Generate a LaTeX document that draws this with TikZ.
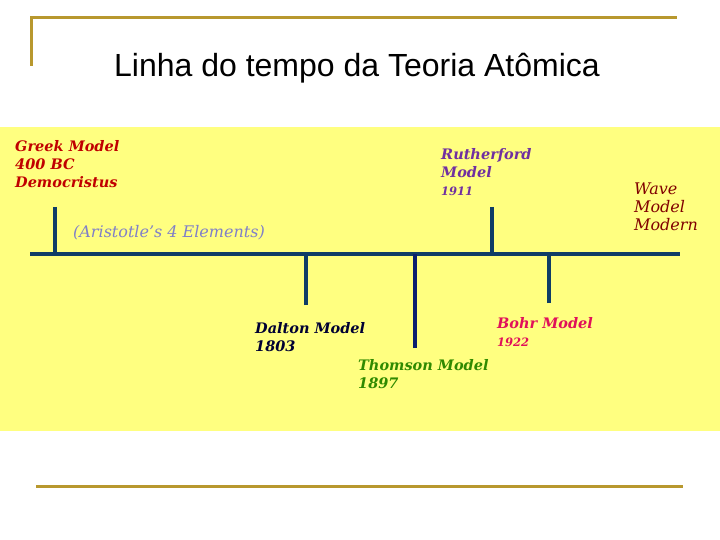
\documentclass[tikz,border=0pt]{standalone}
\usepackage{fontspec}
\setmainfont{DejaVu Serif}
\newfontfamily\titlefont{Liberation Sans}
\usetikzlibrary{positioning}
\definecolor{ruleGold}{HTML}{B8982E}
\definecolor{bandFill}{HTML}{FFFF80}
\definecolor{axisLine}{HTML}{0F3D66}
\definecolor{thomLine}{HTML}{0A1F6E}
\definecolor{greekText}{HTML}{C00000}
\definecolor{aristText}{HTML}{8080C8}
\definecolor{ruthText}{HTML}{7030A0}
\definecolor{waveText}{HTML}{800000}
\definecolor{daltText}{HTML}{000033}
\definecolor{thomText}{HTML}{2F8A00}
\definecolor{bohrText}{HTML}{E0105A}

\begin{document}
\begin{tikzpicture}[
  x=1pt, y=-1pt,
  rule/.style  ={draw=ruleGold, line width=3pt},
  axis/.style  ={draw=axisLine, line width=4pt},
  era/.style   ={font=\bfseries\itshape\fontsize{14.5}{18}\selectfont, anchor=north west, inner sep=0pt, align=left},
]
\useasboundingbox (0,0) rectangle (720,540);
\fill[white] (0,0) rectangle (720,540);
% ----- slide frame -----
\draw[rule] (31,66) -- (31,18) -- (677,18);
\draw[rule] (36,486) -- (683,486);
\node[font=\titlefont\fontsize{32}{36}\selectfont] (title) at (357,68) {Linha do tempo da Teoria Atômica};
% ----- band -----
\fill[bandFill] (0,127) rectangle (720,431);
% ----- timeline -----
\coordinate (tl0) at (30,254);
\coordinate (tl1) at (680,254);
\draw[axis] (tl0) -- (tl1);
\coordinate (greekT) at (55,207);
\coordinate (ruthT)  at (492,207);
\coordinate (daltT)  at (306,305);
\coordinate (thomT)  at (415,348);
\coordinate (bohrT)  at (549,303);
\draw[axis] (greekT) -- (greekT |- tl0);
\draw[axis] (ruthT) -- (ruthT |- tl0);
\draw[axis] (daltT) -- (daltT |- tl0);
\draw[axis, draw=thomLine] (thomT) -- (thomT |- tl0);
\draw[axis] (bohrT) -- (bohrT |- tl0);
% ----- labels above -----
\node[era, text=greekText] (greek) at (15,140) {Greek Model\\400 BC\\Democristus};
\node[era, text=aristText, font=\itshape\fontsize{16}{18}\selectfont] (arist) at (73,225) {(Aristotle's 4 Elements)};
\node[era, text=ruthText] (ruth) at (441,148) {Rutherford\\Model\\{\fontsize{11.5}{18}\selectfont 1911}};
\node[era, text=waveText, font=\itshape\fontsize{16}{18}\selectfont] (wave) at (634,183) {Wave\\Model\\Modern};
% ----- labels below -----
\node[era, text=daltText] (dalt) at (255,322) {Dalton Model\\1803};
\node[era, text=thomText] (thom) at (358,359) {Thomson Model\\1897};
\node[era, text=bohrText] (bohr) at (497,317) {Bohr Model\\{\fontsize{11.5}{18}\selectfont 1922}};
\end{tikzpicture}
\end{document}
